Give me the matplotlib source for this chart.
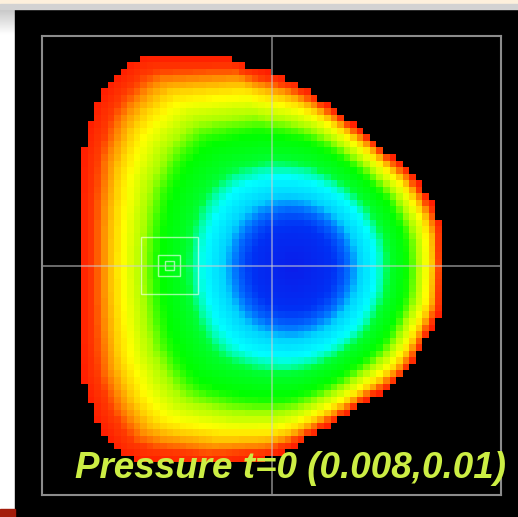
import numpy as np
import matplotlib
matplotlib.use('Agg')
import matplotlib.pyplot as plt
from matplotlib.colors import LinearSegmentedColormap
from matplotlib.patches import Rectangle

# plasma edge, in frame units (-1..1 both ways)
boundary_u = [-0.56, -0.19, -0.10, 0.00, 0.08, 0.17, 0.25, 0.34, 0.43, 0.51, 0.60, 0.665, 0.72, 0.745, 0.75,
              0.745, 0.72, 0.68, 0.63, 0.57, 0.49, 0.40, 0.32, 0.23, 0.14, 0.06, -0.05, -0.31, -0.57, -0.66,
              -0.71, -0.76, -0.79, -0.82, -0.83, -0.83, -0.83, -0.82, -0.79, -0.76, -0.71, -0.66, -0.62]
boundary_v = [0.91, 0.91, 0.87, 0.84, 0.81, 0.76, 0.70, 0.63, 0.56, 0.49, 0.42, 0.33, 0.24, 0.15, 0.00,
              -0.175, -0.24, -0.31, -0.41, -0.49, -0.55, -0.60, -0.655, -0.71, -0.765, -0.81, -0.85, -0.87, -0.85, -0.82,
              -0.76, -0.68, -0.59, -0.50, -0.33, 0.00, 0.28, 0.50, 0.61, 0.71, 0.79, 0.84, 0.88]
# magnetic axis (centre of the blue core) and size of the inner, rounder surfaces
axis_u, axis_v = 0.094, -0.01
core_a, core_b = 0.79, 0.83

# pressure level vs normalised radius (1 = core, 0 = edge)
rho_prof = [0.0, 0.18, 0.25, 0.30, 0.34, 0.38, 0.46, 0.52, 0.58, 0.70, 0.76, 0.82, 0.88, 0.92, 0.96, 1.0]
p_prof = [1.0, 0.93, 0.88, 0.83, 0.77, 0.69, 0.61, 0.56, 0.48, 0.40, 0.33, 0.26, 0.20, 0.14, 0.07, 0.0]

cmap_levels = [0.0, 0.08, 0.15, 0.24, 0.33, 0.42, 0.52, 0.60, 0.72, 0.82, 0.90, 1.0]
cmap_colors = ['#ff1e00', '#ff3c00', '#ff9600', '#ffff00', '#aaff00', '#00ff00',
               '#00ff3c', '#00ffff', '#00c8ff', '#006eff', '#0032f5', '#0a1eeb']

n_cells = 70
probe_u, probe_v = -0.445, 0.0
probe_sizes = [0.25, 0.095, 0.04]
label = 'Pressure t=0 (0.008,0.01)'

cmap = LinearSegmentedColormap.from_list('press', list(zip(cmap_levels, cmap_colors)))

# densify the edge polygon, then take its radius vs angle round the geometric centre
bu = np.array(boundary_u + boundary_u[:1])
bv = np.array(boundary_v + boundary_v[:1])
t = np.linspace(0, 1, 20, endpoint=False)
du_seg = np.concatenate([bu[i] + (bu[i + 1] - bu[i]) * t for i in range(len(bu) - 1)])
dv_seg = np.concatenate([bv[i] + (bv[i + 1] - bv[i]) * t for i in range(len(bv) - 1)])
cu = (bu.max() + bu.min()) / 2
cv = (bv.max() + bv.min()) / 2
ang = np.arctan2(dv_seg - cv, du_seg - cu)
rad = np.hypot(du_seg - cu, dv_seg - cv)
order = np.argsort(ang)
ang, rad = ang[order], rad[order]

edges = np.linspace(-1, 1, n_cells + 1)
mid = (edges[:-1] + edges[1:]) / 2
U, V = np.meshgrid(mid, mid)


def gap(rho):
    s = 1 - rho**3
    du = U - (cu + (axis_u - cu) * s)
    dv = V - (cv + (axis_v - cv) * s)
    th = np.arctan2(dv, du)
    r_edge = np.interp(th, ang, rad, period=2 * np.pi)
    r_core = 1 / np.hypot(np.cos(th) / core_a, np.sin(th) / core_b)
    w = np.clip(rho, 0, 1)**2
    return np.hypot(du, dv) - rho * (r_core + w * (r_edge - r_core))


lo = np.zeros_like(U)
hi = np.full_like(U, 1.5)
for _ in range(40):
    m = (lo + hi) / 2
    inside = gap(m) < 0
    hi = np.where(inside, m, hi)
    lo = np.where(inside, lo, m)
rho = (lo + hi) / 2
p = np.ma.masked_where(rho > 1, np.interp(rho, rho_prof, p_prof))

fig = plt.figure(figsize=(5.18, 5.17), dpi=100, facecolor='white')

# screenshot surroundings
bg = fig.add_axes([0, 0, 1, 1])
bg.add_patch(Rectangle((15, 9), 503, 508, color='black'))
bg.add_patch(Rectangle((0, 0), 518, 4, color='#fdf0dc'))
bg.add_patch(Rectangle((0, 4), 518, 5, color='#d2d2d2'))
bg.imshow(np.linspace(0.78, 1, 30)[:, None], extent=(0, 15, 35, 9), cmap='gray', vmin=0, vmax=1, aspect='auto')
bg.add_patch(Rectangle((0, 509), 15, 8, color='#a31d0b'))
bg.set_xlim(0, 518)
bg.set_ylim(517, 0)
bg.axis('off')

ax = fig.add_axes([42 / 518, 22 / 517, 459 / 518, 459 / 517])
ax.set_facecolor('black')
ax.imshow(p, extent=[-1, 1, -1, 1], origin='lower', cmap=cmap, vmin=0, vmax=1, interpolation='nearest')
ax.axhline(0, color='#d0d0d0', lw=1.2, alpha=0.6)
ax.axvline(0, color='#d0d0d0', lw=1.2, alpha=0.6)
for s in probe_sizes:
    ax.add_patch(Rectangle((probe_u - s / 2, probe_v - s / 2), s, s, fill=False, ec='white', lw=1, alpha=0.6))
ax.set_xlim(-1, 1)
ax.set_ylim(-1, 1)
ax.set_xticks([])
ax.set_yticks([])
for sp in ax.spines.values():
    sp.set_color('#8c8c8c')
    sp.set_linewidth(1.5)

fig.text(75 / 518, (517 - 478) / 517, label, color='#ccee44', fontsize=26.5, fontweight='bold',
         fontstyle='italic', family='Liberation Sans', va='baseline')

fig.savefig('out.png', dpi=100)
